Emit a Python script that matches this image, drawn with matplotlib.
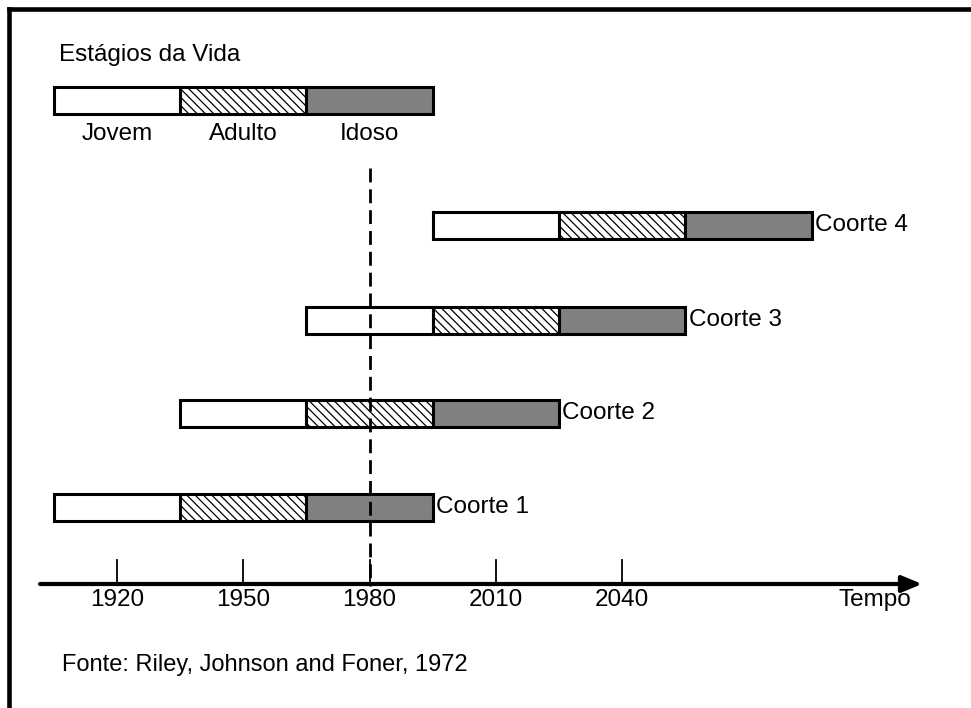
import numpy as np
import matplotlib
matplotlib.use("Agg")
import matplotlib.pyplot as plt
from matplotlib.lines import Line2D

plt.rcParams['font.family'] = ['Liberation Sans', 'DejaVu Sans']
plt.rcParams['hatch.linewidth'] = 0.9

# dados
estagios = ["Jovem", "Adulto", "Idoso"]
cores = ["white", "white", "#808080"]
hachuras = [None, "\\\\\\\\", None]
duracao = 30
coortes = ["Coorte 1", "Coorte 2", "Coorte 3", "Coorte 4"]
inicio = [1905, 1935, 1965, 1995]
linha_y = [507, 413, 320, 225]
anos_ticks = [1920, 1950, 1980, 2010, 2040]
ano_ref = 1980
inicio_legenda = 1905

# escala: 1920 -> px 117, 4.21 px por ano
px_ano = 4.21
x0 = 1920 - 117 / px_ano
x1 = x0 + 971 / px_ano

fig = plt.figure(figsize=(9.71, 7.08), dpi=100)
ax = fig.add_axes([0, 0, 1, 1])
ax.set_xlim(x0, x1)
ax.set_ylim(708, 0)
ax.axis("off")

altura = 27
fs = 17.5


def barra(x, y):
    for i in range(3):
        ax.bar(x + i * duracao, altura, width=duracao, bottom=y - altura / 2,
               align="edge", color=cores[i], hatch=hachuras[i],
               edgecolor="black", linewidth=2.2, zorder=3)


# legenda dos estágios
barra(inicio_legenda, 100)
ax.text(x0 + 59 / px_ano, 55, "Estágios da Vida", fontsize=fs, va="center", ha="left")
for i, nome in enumerate(estagios):
    ax.text(inicio_legenda + duracao * (i + 0.5), 134, nome, fontsize=fs,
            ha="center", va="center")

# coortes
for nome, x, y in zip(coortes, inicio, linha_y):
    barra(x, y)
    ax.text(x + 3 * duracao + 0.8, y, nome, fontsize=fs, va="center", ha="left")

# eixo do tempo
ax.annotate("", xy=(x0 + 922 / px_ano, 584), xytext=(x0 + 40 / px_ano, 584),
            arrowprops=dict(arrowstyle="-|>,head_length=1.2,head_width=0.5",
                            lw=3, color="black", shrinkA=0, shrinkB=0))
for ano in anos_ticks:
    ax.plot([ano, ano], [560, 584], color="black", lw=1.3)
    ax.text(ano, 600, str(ano), fontsize=fs, ha="center", va="center")
ax.text(x0 + 875 / px_ano, 600, "Tempo", fontsize=fs, ha="center", va="center")

# linha tracejada em 1980
ax.plot([ano_ref, ano_ref], [168, 586], color="black", lw=2, ls=(0, (5, 2.5)), zorder=4)

ax.text(x0 + 62 / px_ano, 665, "Fonte: Riley, Johnson and Foner, 1972",
        fontsize=17, va="center", ha="left")

# moldura (só topo e esquerda visíveis)
fig.add_artist(Line2D([9 / 971, 1], [1 - 9 / 708, 1 - 9 / 708], color="black", lw=3.3,
                      transform=fig.transFigure, solid_capstyle="projecting"))
fig.add_artist(Line2D([9 / 971, 9 / 971], [0, 1 - 9 / 708], color="black", lw=3.3,
                      transform=fig.transFigure, solid_capstyle="projecting"))

fig.savefig("out.png", dpi=100)
